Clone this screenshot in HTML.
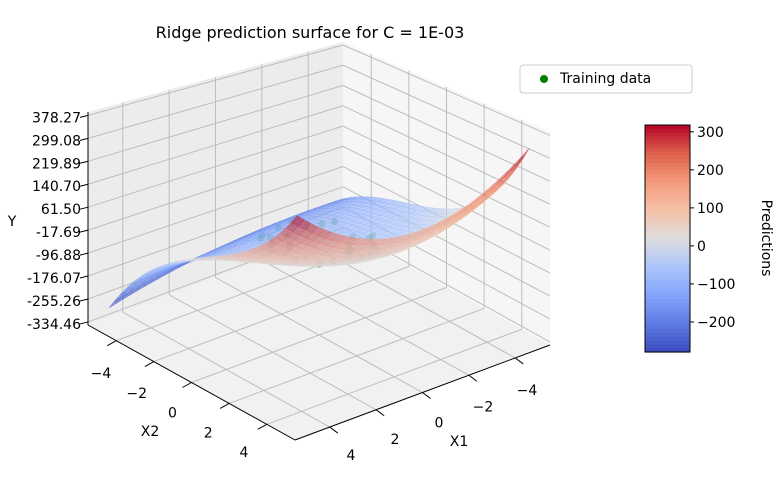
<!DOCTYPE html>
<html><head><meta charset="utf-8"><style>
html,body{margin:0;padding:0;background:#fff;}
svg{display:block;font-family:"DejaVu Sans","Liberation Sans",sans-serif;}
</style></head><body>
<svg id="c" width="784" height="477" viewBox="0 0 784 477">
<text x="310" y="38" font-size="16" text-anchor="middle" fill="#000">Ridge prediction surface for C = 1E-03</text>
<g id="panes"></g>
<g id="grid"></g>
<g id="pts"></g>
<g id="surf"></g>
<g id="axes"></g>
<g id="cbar"></g>
<g>
<rect x="520" y="65" width="172" height="28" rx="3" fill="#fff" stroke="#ccc"/>
<circle cx="544" cy="79" r="4" fill="#008000"/>
<text x="560" y="83" font-size="14" fill="#000">Training data</text>
</g>
<text x="150" y="436" font-size="14" text-anchor="middle">X2</text>
<text x="459" y="446" font-size="14" text-anchor="middle">X1</text>
<text x="12" y="226" font-size="14" text-anchor="middle">Y</text>
<text x="0" y="0" font-size="14" text-anchor="middle" transform="translate(762,238) rotate(90)">Predictions</text>
</svg>
<script>
const xTicks=[-4,-2,0,2,4];
const xTickLabels=["\u22124","\u22122","0","2","4"];
const zTicks=[-334.46,-255.26,-176.07,-96.88,-17.69,61.50,140.70,219.89,299.08,378.27];
const zTickLabels=["-334.46","-255.26","-176.07","-96.88","-17.69","61.50","140.70","219.89","299.08","378.27"];
const cbarTicks=[-200,-100,0,100,200,300];
const cbarTickLabels=["\u2212200","\u2212100","0","100","200","300"];
// surface model coefficients
const coefA=[-64], coefB=[9], coefC=[11.7], coefD=[0.88], coefE=[2.76], coefG=[1.62], coefF=[1.0], coefH=[0.788], coefK=[-0.556];
const trainX1=[1.4,1.2,0.8,0.3,-0.2,-0.7,-1.1,-1.4,-1.5,-1.3,-0.9,-0.4,0.1,0.6,1.0,1.3,1.6,1.5,0.9,-1.6,-1.0,0.4,1.1,-0.5,0.8,1.2,-0.8,-1.2,0.5,-0.5];
const trainX2=[-1.4,-1.0,-1.6,-1.8,-1.7,-1.5,-1.2,-0.9,1.0,1.3,1.6,1.8,1.7,1.5,1.2,0.9,-0.6,0.6,-1.9,0.7,1.9,-1.2,1.4,1.1,-0.6,-0.3,0.6,0.3,-0.9,0.9];
const trainY=[-20,-30,-40,-25,-15,-35,-30,-20,-10,-25,-40,-30,-15,-25,-35,-20,-30,-25,-40,-30,-20,-35,-25,-30,-45,-40,-35,-30,-50,-40];

const zmin=-345,zmax=390,vmin=-279,vmax=318,S=5/5.5;
const NS="http://www.w3.org/2000/svg";
function P(x1,x2,z){const a=x1*S,b=x2*S;const h=213+2.5*(a+b);
 return [319-25.5*a+20.7*b, 335+9.5*a+11.5*b-(z-zmin)/(zmax-zmin)*h];}
function mk(t,a,parent){const e=document.createElementNS(NS,t);for(const k in a)e.setAttribute(k,a[k]);parent.appendChild(e);return e;}
function pts(arr){return arr.map(p=>p[0].toFixed(1)+","+p[1].toFixed(1)).join(" ");}
const cm=[[0,[59,76,192]],[0.125,[93,124,227]],[0.25,[131,165,252]],[0.375,[172,197,251]],[0.5,[221,221,221]],[0.625,[244,193,167]],[0.75,[244,154,123]],[0.875,[222,96,77]],[1,[180,4,38]]];
function cmap(t){t=Math.max(0,Math.min(1,t));for(let i=1;i<cm.length;i++){if(t<=cm[i][0]){const a=cm[i-1],b=cm[i];const f=(t-a[0])/(b[0]-a[0]);
 return "rgb("+a[1].map((v,j)=>Math.round(v+(b[1][j]-v)*f)).join(",")+")";}}return "rgb(180,4,38)";}
function f(x1,x2){return coefA[0]+coefB[0]*x1+coefC[0]*x2+coefD[0]*x1*x2+coefE[0]*x1*x1+coefG[0]*x2*x2+coefF[0]*x2*x2*x2+coefH[0]*x1*x1*x2+coefK[0]*x1*x2*x2;}

const L=5.5;
const panes=document.getElementById('panes');
let e;
e=mk('polygon',{points:pts([P(L,-L,zmin),P(-L,-L,zmin),P(-L,-L,zmax),P(L,-L,zmax)]),fill:'#ececec'},panes);

e=mk('polygon',{points:pts([P(-L,-L,zmin),P(-L,L,zmin),P(-L,L,zmax),P(-L,-L,zmax)]),fill:'#f6f6f6'},panes);

e=mk('polygon',{points:pts([P(-L,-L,zmin),P(-L,L,zmin),P(L,L,zmin),P(L,-L,zmin)]),fill:'#f1f1f1'},panes);


const grid=document.getElementById('grid');
function gl(a,b,name){const l=mk('line',{x1:a[0],y1:a[1],x2:b[0],y2:b[1],stroke:'#bdbdbd','stroke-width':1},grid);
 }
xTicks.forEach(t=>{gl(P(t,-L,zmin),P(t,L,zmin),'floor-grid-x1');gl(P(-L,t,zmin),P(L,t,zmin),'floor-grid-x2');
 gl(P(t,-L,zmin),P(t,-L,zmax),'left-wall-grid');gl(P(-L,t,zmin),P(-L,t,zmax),'right-wall-grid');});
zTicks.forEach(z=>{gl(P(L,-L,z),P(-L,-L,z),'left-wall-zgrid');gl(P(-L,-L,z),P(-L,L,z),'right-wall-zgrid');});

const pg=document.getElementById('pts');
trainX1.forEach((x,i)=>{const p=P(x,trainX2[i],trainY[i]);const c=mk('circle',{cx:p[0],cy:p[1],r:3.5,fill:'#3aa03a','fill-opacity':0.5},pg);
 });

const sg=document.getElementById('surf');const N=34,quads=[];
for(let i=0;i<N;i++)for(let j=0;j<N;j++){const a=-5+10*i/N,b=-5+10*(i+1)/N,c=-5+10*j/N,d=-5+10*(j+1)/N;
 const zs=[f(a,c),f(b,c),f(b,d),f(a,d)];const zm=(zs[0]+zs[1]+zs[2]+zs[3])/4;
 quads.push({depth:(a+b+c+d)/2,poly:[P(a,c,zs[0]),P(b,c,zs[1]),P(b,d,zs[2]),P(a,d,zs[3])],col:cmap((zm-vmin)/(vmax-vmin))});}
quads.sort((p,q)=>p.depth-q.depth);
quads.forEach(q=>{const pl=mk('polygon',{points:pts(q.poly),fill:q.col,stroke:q.col,'stroke-width':0.5,'fill-opacity':0.6,'stroke-opacity':0.6},sg);
 });

const ax=document.getElementById('axes');
function al(a,b,name){const l=mk('line',{x1:a[0],y1:a[1],x2:b[0],y2:b[1],stroke:'#000','stroke-width':1},ax);
 }
al(P(L,-L,zmin),P(L,L,zmin),'x2-axis-line');al(P(L,L,zmin),P(-L,L,zmin),'x1-axis-line');al(P(L,-L,zmin),P(L,-L,zmax),'z-axis-line');
function txt(x,y,s,anchor,name,parent){const t=mk('text',{x:x,y:y,'font-size':14,'text-anchor':anchor,fill:'#000'},parent||ax);t.textContent=s;
 }
xTicks.forEach((t,i)=>{
 const a=P(L,t,zmin);al(a,[a[0]-9,a[1]+5],'x2-tick');
 const u=(t+4)/8;txt(101+(244-101)*u,378+(457-378)*u,xTickLabels[i],'middle','x2-tick-label');
 const b=P(t,L,zmin);al(b,[b[0]+8,b[1]+6],'x1-tick');
 const v=(4-t)/8;txt(351+(527-351)*v,460+(395-460)*v,xTickLabels[i],'middle','x1-tick-label');});
zTicks.forEach((z,i)=>{const p=P(L,-L,z);al(p,[p[0]-8,p[1]+2],'z-tick');txt(p[0]-7,p[1]+7,zTickLabels[i],'end','z-tick-label');});

const cb=document.getElementById('cbar');const cx=645,cw=45,ct=125,cbm=352;
for(let k=0;k<60;k++){const y0=ct+(cbm-ct)*k/60;const r=mk('rect',{x:cx,y:y0,width:cw,height:(cbm-ct)/60+0.6,fill:cmap(1-(k+0.5)/60)},cb);
 }
const fr=mk('rect',{x:cx,y:ct,width:cw,height:cbm-ct,fill:'none',stroke:'#000','stroke-width':1},cb);

cbarTicks.forEach((v,i)=>{const y=ct+(vmax-v)/(vmax-vmin)*(cbm-ct);
 const l=mk('line',{x1:cx+cw,y1:y,x2:cx+cw+4,y2:y,stroke:'#000'},cb);
 txt(cx+cw+7,y+5,cbarTickLabels[i],'start','colorbar-tick-label',cb);});
</script>
</body></html>
